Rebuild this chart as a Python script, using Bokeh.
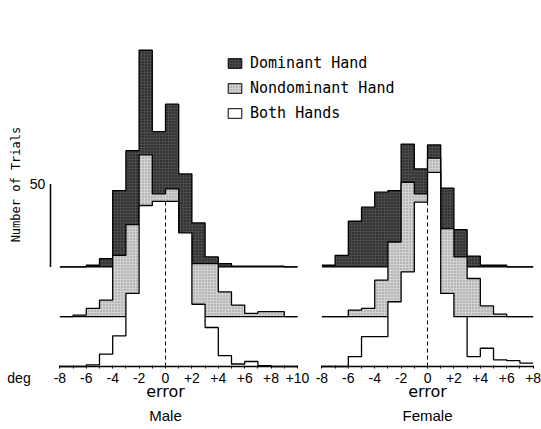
import numpy as np
from bokeh.plotting import figure
from bokeh.models import Label, Legend, LegendItem, FixedTicker, LinearAxis
from bokeh.embed import file_html
from bokeh.resources import INLINE

# ---------------- data (number of trials per 1-deg error bin) ----------------
male_edges = list(range(-8, 11))      # bin edges, deg
female_edges = list(range(-8, 9))

male_dominant = [0, 0, 1, 5, 46, 70, 130.5, 81.5, 98, 56, 26.5, 6, 2, 0.5, 0.5, 0.5, 0.5, 0]
male_nondominant = [0, 1, 5, 10, 37, 55.5, 97.5, 74, 77, 48, 32, 32, 15, 7, 2, 3, 3, 0]
male_both = [0, 0, 1, 7.5, 18.5, 44, 97, 99.5, 99.5, 80.5, 37.5, 23.5, 6.5, 1.5, 3, 0.5, 0, 0]

female_dominant = [1, 7, 27.5, 36, 45, 46, 74, 59, 73.5, 47.5, 22.5, 6.5, 1, 1, 0, 0]
female_nondominant = [0, 0, 4, 5, 22, 45, 81, 74, 95.5, 53, 36, 23, 6.5, 1.5, 0, 0]
female_both = [0, 0, 6, 18, 18, 39, 57, 99, 117, 44, 30, 6, 11, 4, 3.5, 2]

series_names = ["Dominant Hand", "Nondominant Hand", "Both Hands"]
series_offsets = [60, 30, 0]          # vertical offset of each histogram, trials
scale_bar_trials = 50

male_ticks = [-8, -6, -4, -2, 0, 2, 4, 6, 8, 10]
female_ticks = [-8, -6, -4, -2, 0, 2, 4, 6, 8]
panel_names = ["Male", "Female"]
axis_title = "error"
unit_label = "deg"
y_title = "Number of Trials"

# ---------------- layout ----------------
PX_DEG = 13.2
PX_TRIAL = 1.66
X_ZERO_PX = 165
FEMALE_SHIFT = 19.85                  # deg, horizontal placement of female panel
W, H = 541, 429
FRAME_H = 368
x0 = -X_ZERO_PX / PX_DEG
x1 = x0 + W / PX_DEG
y0 = -2 / PX_TRIAL
y1 = y0 + FRAME_H / PX_TRIAL
DEG_X = (18.5 - X_ZERO_PX) / PX_DEG   # position of the "deg" unit label

styles = [
    dict(fill_color="#4a4a4a", hatch_pattern="dot", hatch_scale=3, hatch_color="#111111", hatch_weight=1),
    dict(fill_color="#d2d2d2", hatch_pattern="dot", hatch_scale=3, hatch_color="#8c8c8c", hatch_weight=1),
    dict(fill_color="#ffffff"),
]
LW = 1.3

p = figure(width=W, height=H, x_range=(x0, x1), y_range=(y0, y1),
           output_backend="svg", toolbar_location=None, y_axis_location=None,
           min_border_left=0, min_border_right=0, min_border_top=0, min_border_bottom=H - FRAME_H)
p.outline_line_color = None
p.xgrid.visible = False
p.ygrid.visible = False
p.background_fill_color = "white"
p.border_fill_color = "white"

def draw_panel(edges, series, shift):
    xs = np.array(edges, dtype=float) + shift
    for counts, off, st in zip(series, series_offsets, styles):
        c = np.array(counts, dtype=float)
        top = off + np.append(c, c[-1])
        p.varea_step(x=xs, y1=np.full(len(xs), off), y2=top, step_mode="after", **st)
        p.segment(x0=xs[0], y0=off, x1=xs[-1], y1=off, line_color="black", line_width=LW)
        p.step(x=xs, y=top, mode="after", line_color="black", line_width=LW)
    both = series[2]
    i0 = edges.index(0)
    p.segment(x0=shift, y0=0, x1=shift, y1=min(both[i0 - 1], both[i0]),
              line_color="black", line_width=1, line_dash="4 3")

draw_panel(male_edges, [male_dominant, male_nondominant, male_both], 0)
draw_panel(female_edges, [female_dominant, female_nondominant, female_both], FEMALE_SHIFT)

# scale bar
scale_x = (50 - X_ZERO_PX) / PX_DEG
p.segment(x0=scale_x, y0=series_offsets[0], x1=scale_x, y1=series_offsets[0] + scale_bar_trials,
          line_color="black", line_width=1.5)
p.add_layout(Label(x=(37 - X_ZERO_PX) / PX_DEG, y=series_offsets[0] + scale_bar_trials,
                   text=str(scale_bar_trials), text_align="center", text_baseline="middle",
                   text_font="Liberation Sans", text_font_size="14px", text_color="black"))
p.add_layout(Label(x=(15 - X_ZERO_PX) / PX_DEG, y=109.6, text=y_title, angle=np.pi / 2,
                   text_align="center", text_baseline="middle", text_font="DejaVu Sans Mono",
                   text_font_size="12px", text_color="black"))

# ---------------- x axes ----------------
def lab(t):
    return "0" if t == 0 else f"{t:+d}"

ticks = [float(t) for t in male_ticks] + [float(t + FEMALE_SHIFT) for t in female_ticks] + [DEG_X]
minor = [float(t) for t in range(male_edges[0], male_edges[-1] + 1)] + \
        [float(t + FEMALE_SHIFT) for t in range(female_edges[0], female_edges[-1] + 1)]
overrides = {float(t): lab(t) for t in male_ticks}
overrides.update({float(t + FEMALE_SHIFT): lab(t) for t in female_ticks})
overrides[DEG_X] = unit_label
ax = p.xaxis[0]
ax.ticker = FixedTicker(ticks=ticks, minor_ticks=minor)
ax.major_label_overrides = overrides
ax.axis_line_color = None
ax.major_tick_line_color = None
ax.major_tick_in = 0
ax.major_tick_out = 0
ax.minor_tick_in = 3
ax.minor_tick_out = 0
ax.minor_tick_line_color = "black"
ax.major_label_standoff = 1
ax.major_label_text_font = "Liberation Sans"
ax.major_label_text_font_size = "14px"
ax.major_label_text_color = "black"

def text_axis(labels, standoff, font, size):
    a = LinearAxis(ticker=FixedTicker(ticks=[0.0, float(FEMALE_SHIFT)], minor_ticks=[]),
                   major_label_overrides={0.0: labels[0], float(FEMALE_SHIFT): labels[1]})
    a.axis_line_color = None
    a.major_tick_line_color = None
    a.minor_tick_line_color = None
    a.major_tick_in = 0
    a.major_tick_out = 0
    a.minor_tick_in = 0
    a.minor_tick_out = 0
    a.major_label_standoff = standoff
    a.major_label_text_font = font
    a.major_label_text_font_size = size
    a.major_label_text_color = "black"
    p.add_layout(a, "below")

text_axis([axis_title, axis_title], -7, "DejaVu Sans", "16px")
text_axis(panel_names, 3, "Liberation Sans", "15px")

# legend with proxy swatches (no visible data)
items = []
for name, st in zip(series_names, styles):
    r = p.quad(left=[np.nan], right=[np.nan], top=[np.nan], bottom=[np.nan],
               line_color="black", line_width=1, **st)
    items.append(LegendItem(label=name, renderers=[r]))
leg = Legend(items=items, location=(226, 246), padding=0, margin=0, spacing=7,
             glyph_width=17, glyph_height=12, label_height=18, label_standoff=7,
             label_text_font="DejaVu Sans Mono", label_text_font_size="15px",
             label_text_color="black", border_line_color=None, background_fill_alpha=0)
p.add_layout(leg)

open("out.html", "w").write(file_html(p, INLINE))
